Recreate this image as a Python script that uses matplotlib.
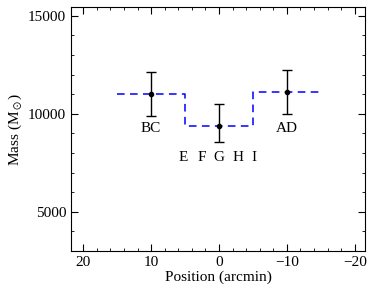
import numpy as np
import matplotlib
matplotlib.use("Agg")
import matplotlib.pyplot as plt
from matplotlib.ticker import MultipleLocator

plt.rcParams['font.family'] = ['Liberation Serif', 'DejaVu Serif']
plt.rcParams['mathtext.fontset'] = 'stix'

# measured points
pos = [10, 0, -10]
mass = [11020, 9390, 11120]
err_lo = [1120, 820, 1120]
err_hi = [1120, 1120, 1120]

# step model
step_x = [15, 5, 5, -5, -5, -15]
step_y = [11020, 11020, 9390, 9390, 11120, 11120]

labels = ['BC', 'AD']
label_pos = [10, -10]
label_y = 9250
letters = ['E', 'F', 'G', 'H', 'I']
letter_pos = [5.3, 2.6, 0, -2.8, -5.1]
letter_y = 7750

fig = plt.figure(figsize=(3.74, 2.93), dpi=100)
ax = fig.add_axes([71/374, 1 - 251/293, 294/374, 244/293])

ax.plot(step_x, step_y, color='blue', ls=(0, (5, 3.5)), lw=1.1)
ax.errorbar(pos, mass, yerr=[err_lo, err_hi], fmt='o', color='black', ms=3,
            ecolor='black', elinewidth=1, capsize=3.5, capthick=1)

for t, x in zip(labels, label_pos):
    ax.text(x, label_y, t, ha='center', va='center', fontsize=11)
for t, x in zip(letters, letter_pos):
    ax.text(x, letter_y, t, ha='center', va='center', fontsize=11)

ax.set_xlim(21.8, -21.5)
ax.set_ylim(3000, 15450)
ax.xaxis.set_major_locator(MultipleLocator(10))
ax.xaxis.set_minor_locator(MultipleLocator(2))
ax.yaxis.set_major_locator(MultipleLocator(5000))
ax.yaxis.set_minor_locator(MultipleLocator(1000))
ax.tick_params(which='both', direction='in', top=True, right=True, labelsize=11)
ax.tick_params(which='major', length=5)
ax.tick_params(which='minor', length=2.5)
ax.set_xlabel('Position (arcmin)', fontsize=11, labelpad=1)
ax.set_ylabel(r'Mass (M$_\odot$)', fontsize=11, labelpad=3)

fig.savefig('out.png', dpi=100)
